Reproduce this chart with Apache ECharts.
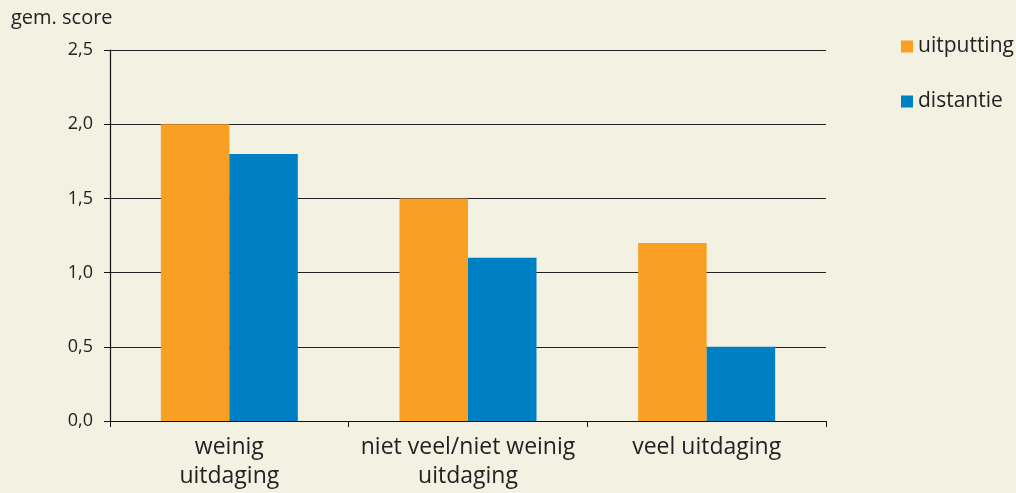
<!DOCTYPE html>
<html><head><meta charset="utf-8">
<script src="https://cdn.jsdelivr.net/npm/echarts@6/dist/echarts.min.js"></script>
<style>html,body{margin:0;padding:0;background:#f3f1e1;}#c{width:1016px;height:493px;}</style>
</head><body><div id="c"></div>
<script>
const categories = ['weinig\nuitdaging', 'niet veel/niet weinig\nuitdaging', 'veel uitdaging'];
const uitputting = [2.0, 1.5, 1.2];
const distantie = [1.8, 1.1, 0.5];
const seriesNames = ['uitputting', 'distantie'];
const yAxisTitle = 'gem. score';

const font = '"Open Sans", "Noto Sans", sans-serif';
const chart = echarts.init(document.getElementById('c'), null, {renderer: 'canvas'});
chart.setOption({
  backgroundColor: '#f3f1e1',
  animation: false,
  textStyle: {fontFamily: font},
  graphic: [{type: 'text', left: 11, top: 8, style: {text: yAxisTitle, font: '20px ' + font, fill: '#222'}}],
  legend: {
    orient: 'vertical', left: 896, top: 31, itemWidth: 12, itemHeight: 12, itemGap: 34,
    icon: 'rect',
    textStyle: {fontSize: 21, color: '#222', fontFamily: font},
    data: seriesNames
  },
  grid: {left: 110, right: 190, top: 50, bottom: 72, containLabel: false},
  xAxis: {
    type: 'category', data: categories,
    axisLine: {lineStyle: {color: '#111', width: 1.2}},
    axisTick: {show: true, length: 6, lineStyle: {color: '#111'}},
    axisLabel: {fontSize: 23, color: '#222', lineHeight: 29, margin: 12, interval: 0, hideOverlap: false, fontFamily: font}
  },
  yAxis: {
    type: 'value', min: 0, max: 2.5, interval: 0.5,
    axisLine: {show: true, lineStyle: {color: '#111', width: 1.2}},
    axisTick: {show: true, length: 6, lineStyle: {color: '#111'}},
    splitLine: {lineStyle: {color: '#222', width: 1.2}},
    axisLabel: {fontSize: 18, color: '#222', margin: 17, fontFamily: font,
      formatter: v => v.toFixed(1).replace('.', ',')}
  },
  series: [
    {name: seriesNames[0], type: 'bar', data: uitputting, barGap: '0%', barCategoryGap: '42.6%', itemStyle: {color: '#f89f24'}},
    {name: seriesNames[1], type: 'bar', data: distantie, itemStyle: {color: '#0080c4'}}
  ]
});
</script></body></html>
